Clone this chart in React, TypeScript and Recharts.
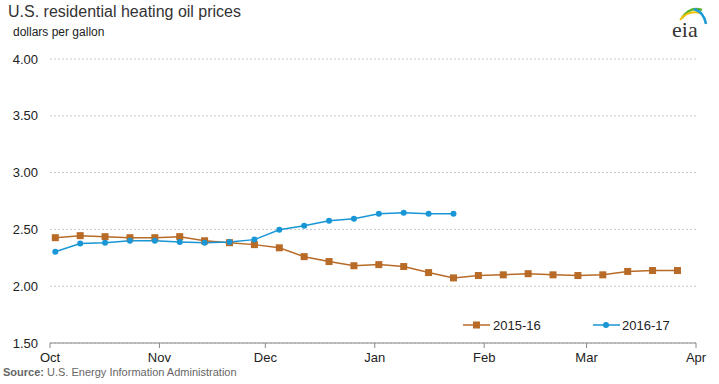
import { CartesianGrid, Line, LineChart, XAxis, YAxis } from "recharts";

// weekly residential heating oil prices, dollars per gallon
const prices2015 = [
  2.427, 2.445, 2.436, 2.427, 2.427, 2.436, 2.4, 2.383, 2.366, 2.338, 2.26, 2.217, 2.18,
  2.19, 2.173, 2.12, 2.073, 2.094, 2.1, 2.11, 2.1, 2.094, 2.1, 2.13, 2.138, 2.138,
];
const prices2016 = [
  2.304, 2.375, 2.383, 2.4, 2.4, 2.39, 2.383, 2.39, 2.41, 2.497, 2.532, 2.576, 2.594,
  2.638, 2.646, 2.638, 2.638,
];
const seriesNames = ["2015-16", "2016-17"];
const months = ["Oct", "Nov", "Dec", "Jan", "Feb", "Mar", "Apr"];
const monthStartDays = [0, 31, 61, 92, 123, 152, 183];
const yTicks = [1.5, 2.0, 2.5, 3.0, 3.5, 4.0];

const ORANGE = "#b86a27";
const BLUE = "#1896d6";
const FONT = "'Liberation Sans', Arial, sans-serif";

// days since Oct 1 for each weekly observation
const firstWeekDay = 1.5;
const weekDays = 7.05;

const data = prices2015.map((v, i) => ({
  day: firstWeekDay + i * weekDays,
  a: v,
  b: prices2016[i],
}));

function SquareDot(props: { cx?: number; cy?: number; index?: number }) {
  const { cx, cy, index } = props;
  if (cx == null || cy == null) return null;
  return <rect key={index} x={cx - 3.5} y={cy - 3.5} width={7} height={7} fill={ORANGE} />;
}

function LegendBox() {
  return (
    <svg width={230} height={20} style={{ position: "absolute", left: 460, top: 315 }}>
      <line x1={3} y1={10} x2={30} y2={10} stroke={ORANGE} strokeWidth={1.5} />
      <rect x={13} y={6.5} width={7} height={7} fill={ORANGE} />
      <text x={33} y={14.5} fontSize={13} fill="#222" fontFamily={FONT}>
        {seriesNames[0]}
      </text>
      <line x1={133} y1={10} x2={160} y2={10} stroke={BLUE} strokeWidth={1.5} />
      <circle cx={146} cy={10} r={3} fill={BLUE} />
      <text x={162} y={14.5} fontSize={13} fill="#222" fontFamily={FONT}>
        {seriesNames[1]}
      </text>
    </svg>
  );
}

function EiaLogo() {
  return (
    <svg width={40} height={40} style={{ position: "absolute", left: 668, top: 2 }}>
      <path d="M14 16 Q22 4 34 8" stroke="#5bb431" strokeWidth={2.5} fill="none" />
      <path d="M12 18 Q20 8 32 11" stroke="#f2c200" strokeWidth={2} fill="none" />
      <path d="M26 7 Q36 10 38 22" stroke="#1c9ad6" strokeWidth={2.5} fill="none" />
      <text x={4} y={35} fontSize={22} fill="#333" fontFamily="'Liberation Serif', serif">
        eia
      </text>
    </svg>
  );
}

export default function App() {
  return (
    <div style={{ position: "relative", width: 719, height: 384, background: "#fff", fontFamily: FONT }}>
      <style>{"body{margin:0}"}</style>
      <div style={{ position: "absolute", left: 8, top: 3, fontSize: 16, color: "#333" }}>
        U.S. residential heating oil prices
      </div>
      <div style={{ position: "absolute", left: 13, top: 25, fontSize: 12, color: "#222" }}>
        dollars per gallon
      </div>
      <EiaLogo />
      <LineChart
        width={719}
        height={384}
        data={data}
        margin={{ top: 59, right: 23, bottom: 11, left: 0 }}
      >
        <CartesianGrid vertical={false} stroke="#c8c8c8" strokeDasharray="2 2" />
        <XAxis
          type="number"
          dataKey="day"
          domain={[0, 183]}
          ticks={monthStartDays}
          tickFormatter={(d: number) => months[monthStartDays.indexOf(d)]}
          stroke="#888"
          tickSize={5}
          tickMargin={5}
          height={30}
          tick={{ fontSize: 13, fill: "#222", fontFamily: FONT }}
        />
        <YAxis
          domain={[1.5, 4]}
          ticks={yTicks}
          tickFormatter={(v: number) => v.toFixed(2)}
          axisLine={false}
          tickLine={false}
          width={50}
          tickMargin={6}
          tick={{ fontSize: 13, fill: "#222", fontFamily: FONT }}
        />
        <Line
          dataKey="a"
          name={seriesNames[0]}
          stroke={ORANGE}
          strokeWidth={1.5}
          dot={<SquareDot />}
          activeDot={false}
          isAnimationActive={false}
        />
        <Line
          dataKey="b"
          name={seriesNames[1]}
          stroke={BLUE}
          strokeWidth={1.5}
          dot={{ r: 3, fill: BLUE, stroke: BLUE, strokeWidth: 0 }}
          activeDot={false}
          isAnimationActive={false}
        />
      </LineChart>
      <LegendBox />
      <div style={{ position: "absolute", left: 3, top: 366, fontSize: 11, color: "#666" }}>
        <b>Source:</b> U.S. Energy Information Administration
      </div>
    </div>
  );
}
